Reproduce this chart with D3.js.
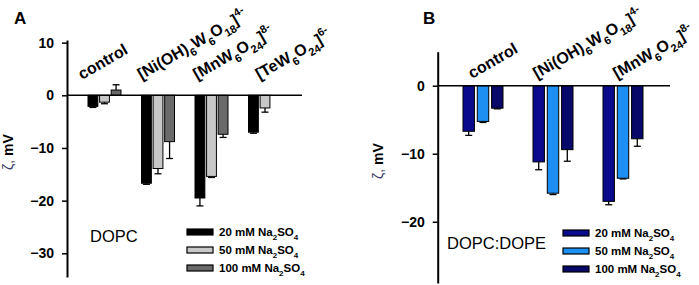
<!DOCTYPE html>
<html>
<head>
<meta charset="utf-8">
<script src="https://cdn.jsdelivr.net/npm/d3@7"></script>
<style>
  body { margin: 0; background: #fff; }
  svg { display: block; font-family: "Liberation Sans", Arial, sans-serif; }
</style>
</head>
<body>
<div id="chart"></div>
<script>
// ---- data ----
const seriesNames = ["20 mM", "50 mM", "100 mM"];

const catsA = ["control", "Ni", "Mn", "Te"];
const a20 = [-2.1, -16.7, -19.5, -7.0];
const a20err = [0.2, 0.2, 1.5, 0.2];
const a50 = [-1.3, -13.9, -15.4, -2.4];
const a50err = [0.3, 1.0, 0.2, 0.8];
const a100 = [1.0, -8.8, -7.4, null];
const a100err = [1.0, 3.2, 0.6, null];

const catsB = ["control", "Ni", "Mn"];
const b20 = [-6.7, -11.2, -17.0];
const b20err = [0.6, 1.15, 0.5];
const b50 = [-5.25, -15.8, -13.6];
const b50err = [0.15, 0.2, 0.1];
const b100 = [-3.3, -9.4, -7.8];
const b100err = [0.1, 1.7, 1.1];

const ticksA = [10, 0, -10, -20, -30];
const ticksB = [0, -10, -20];

// label pieces: [text, "" | "sub" | "sup"]
const catLabels = {
  control: [["control", ""]],
  Ni: [["[Ni(OH)", ""], ["6", "sub"], ["W", ""], ["6", "sub"], ["O", ""], ["18", "sub"], ["]", ""], ["4-", "sup"]],
  Mn: [["[MnW", ""], ["6", "sub"], ["O", ""], ["24", "sub"], ["]", ""], ["8-", "sup"]],
  Te: [["[TeW", ""], ["6", "sub"], ["O", ""], ["24", "sub"], ["]", ""], ["6-", "sup"]]
};

const svg = d3.select("#chart").append("svg")
  .attr("width", 699)
  .attr("height", 285);

// writes pieces into a text node, using dy for sub/superscripts
function richText(sel, pieces, big, small) {
  let shift = 0;
  pieces.forEach(([t, kind]) => {
    const target = kind === "sub" ? big * 0.35 : kind === "sup" ? -big * 0.45 : 0;
    sel.append("tspan")
      .attr("dy", target - shift)
      .style("font-size", (kind ? small : big) + "px")
      .text(t);
    shift = target;
  });
}

function drawPanel(o) {
  const g = svg.append("g");

  const y = d3.scaleLinear().domain(o.yDomain).range(o.yRange);
  const x0 = d3.scaleBand().domain(o.cats).range(o.xRange).paddingInner(0).paddingOuter(0);
  const x1 = d3.scaleBand().domain(seriesNames).range([0, o.groupW]).paddingInner(o.innerPad);

  const rows = [];
  o.cats.forEach((c, i) => {
    o.series.forEach((s, j) => {
      if (s.vals[i] == null) return;
      rows.push({ cat: c, name: seriesNames[j], v: s.vals[i], e: s.errs[i], color: s.color });
    });
  });

  // error bars (outward from zero)
  const eb = g.selectAll("g.err").data(rows.filter(d => d.e > 0)).join("g");
  const cx = d => x0(d.cat) + x1(d.name) + x1.bandwidth() / 2;
  const tip = d => d.v < 0 ? d.v - d.e : d.v + d.e;
  eb.append("line")
    .attr("x1", cx).attr("x2", cx)
    .attr("y1", d => y(d.v)).attr("y2", d => y(tip(d)))
    .attr("stroke", "#000").attr("stroke-width", 1.3);
  eb.append("line")
    .attr("x1", d => cx(d) - 3.5).attr("x2", d => cx(d) + 3.5)
    .attr("y1", d => y(tip(d))).attr("y2", d => y(tip(d)))
    .attr("stroke", "#000").attr("stroke-width", 1.3);

  g.selectAll("rect.bar").data(rows).join("rect")
    .attr("class", "bar")
    .attr("x", d => x0(d.cat) + x1(d.name))
    .attr("width", x1.bandwidth())
    .attr("y", d => y(Math.max(0, d.v)))
    .attr("height", d => Math.abs(y(d.v) - y(0)))
    .attr("fill", d => d.color)
    .attr("stroke", "#000")
    .attr("stroke-width", 1);

  // zero line
  g.append("line")
    .attr("x1", o.axisX).attr("x2", o.zeroEnd)
    .attr("y1", y(0)).attr("y2", y(0))
    .attr("stroke", "#000").attr("stroke-width", 1.5);

  // y axis
  const ax = g.append("g")
    .attr("transform", `translate(${o.axisX},0)`)
    .call(d3.axisLeft(y).tickValues(o.ticks).tickSize(5).tickPadding(8).tickSizeOuter(0));
  ax.select(".domain").attr("stroke-width", 2);
  ax.selectAll(".tick line").attr("stroke-width", 1.5);
  ax.selectAll(".tick text")
    .style("font-size", "14px").style("font-weight", "bold")
    .style("font-family", "'Liberation Sans', Arial, sans-serif")
    .attr("fill", "#000");

  // y label
  const yl = g.append("text")
    .attr("transform", `translate(${o.yLabelX},${o.yLabelY}) rotate(-90)`)
    .attr("text-anchor", "middle")
    .style("font-size", "14px");
  yl.append("tspan").attr("fill", "#3a3a6a").text("ζ, ");
  yl.append("tspan").style("font-weight", "bold").text("mV");

  // category labels
  o.cats.forEach((c, i) => {
    const t = g.append("text")
      .attr("transform", `translate(${x0(c) + o.labelDx[i]},${o.labelY}) rotate(-30)`)
      .style("font-weight", "bold")
      .attr("fill", "#000");
    richText(t, catLabels[c], 16, 11);
  });

  // panel letter
  g.append("text")
    .attr("x", o.letterX).attr("y", 24)
    .style("font-size", "17px").style("font-weight", "bold")
    .text(o.letter);

  // lipid label
  g.append("text")
    .attr("x", o.lipidX).attr("y", o.lipidY)
    .style("font-size", "16.5px")
    .text(o.lipid);

  // legend
  o.series.forEach((s, j) => {
    const ly = o.legY + j * 18;
    g.append("rect")
      .attr("x", o.legX).attr("y", ly - 3)
      .attr("width", 26).attr("height", 6)
      .attr("fill", s.color).attr("stroke", "#000").attr("stroke-width", 1.2);
    const t = g.append("text")
      .attr("x", o.legX + 32).attr("y", ly + 4)
      .style("font-weight", "bold");
    richText(t, [[seriesNames[j] + " Na", ""], ["2", "sub"], ["SO", ""], ["4", "sub"]], 11.5, 8);
  });
}

drawPanel({
  letter: "A", letterX: 14,
  cats: catsA,
  series: [
    { vals: a20, errs: a20err, color: "#000000" },
    { vals: a50, errs: a50err, color: "#c8c8c8" },
    { vals: a100, errs: a100err, color: "#6a6a6a" }
  ],
  yDomain: [-34.5, 10.5], yRange: [277, 40],
  xRange: [88, 302], groupW: 33, innerPad: 0.15,
  axisX: 67, zeroEnd: 302, ticks: ticksA,
  yLabelX: 13, yLabelY: 152,
  labelDx: [-6, 0, 2, 11], labelY: 80,
  lipid: "DOPC", lipidX: 90, lipidY: 242,
  legX: 187, legY: 232
});

drawPanel({
  letter: "B", letterX: 423,
  cats: catsB,
  series: [
    { vals: b20, errs: b20err, color: "#0a0a8c" },
    { vals: b50, errs: b50err, color: "#1e8ff2" },
    { vals: b100, errs: b100err, color: "#08086a" }
  ],
  yDomain: [-29, 5], yRange: [283, 51.7],
  xRange: [463, 673], groupW: 40, innerPad: 0.2,
  axisX: 437.7, zeroEnd: 670, ticks: ticksB,
  yLabelX: 383, yLabelY: 161,
  labelDx: [9, 4, 14], labelY: 79,
  lipid: "DOPC:DOPE", lipidX: 447, lipidY: 249,
  legX: 563, legY: 233
});
</script>
</body>
</html>
